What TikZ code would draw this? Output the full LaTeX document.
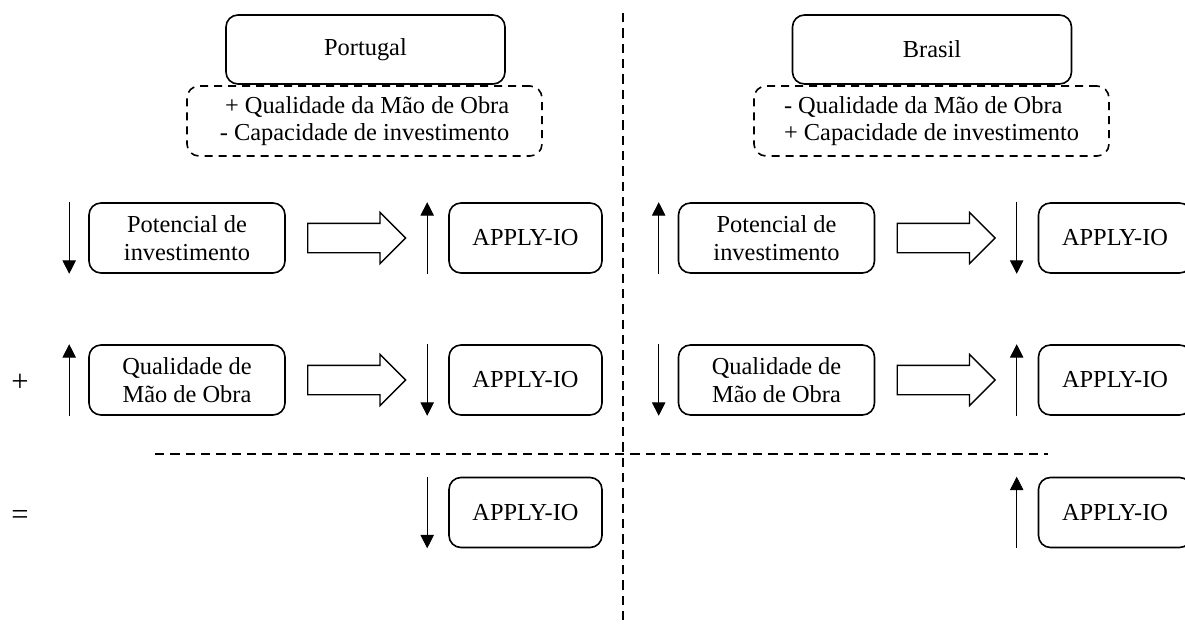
\documentclass[tikz,border=0pt]{standalone}
\usepackage{fontspec}
\setmainfont{Liberation Serif}
\usetikzlibrary{positioning,arrows.meta,shapes.arrows}
\tikzset{
  countrybox/.style={draw, line width=1.2pt, rounded corners=9pt,
    minimum width=209.25pt, minimum height=51.75pt},
  notebox/.style={draw, line width=1.2pt, dash pattern=on 6pt off 4.5pt,
    rounded corners=9pt, minimum width=266.25pt, minimum height=52.5pt},
  factorbox/.style={draw, line width=1.2pt, rounded corners=9pt,
    minimum width=147pt, minimum height=52.5pt, align=center},
  resultbox/.style={draw, line width=1.2pt, rounded corners=9pt,
    minimum width=114.75pt, minimum height=52.5pt},
  bigarrow/.style={draw, single arrow, line width=1pt, inner xsep=0pt, inner ysep=10.5pt,
    minimum height=73.5pt, single arrow head extend=8.25pt, anchor=tail},
  goesdown/.style={line width=0.6pt, -{Triangle[width=10pt,length=10pt]}},
  goesup/.style={line width=0.6pt, {Triangle[width=10pt,length=10pt]}-},
  divider/.style={line width=1.2pt, dash pattern=on 7pt off 4.5pt},
  operator/.style={font={\fontsize{23}{26}\selectfont}},
}
% one row: factor -> APPLY-IO, with the two trend arrows
\newcommand{\effectrow}[6]{%
  \node[factorbox] (#1f) at (187+#2,#3) {#4};
  \node[bigarrow] (#1a) at (307+#2,#3) {};
  \node[resultbox] (#1r) at (525.5+#2,#3) {APPLY-IO};
  \draw[#5] ([xshift=-14.25pt]#1f.north west) -- ([xshift=-14.25pt]#1f.south west);
  \draw[#6] ([xshift=-15.75pt]#1r.north west) -- ([xshift=-15.75pt]#1r.south west);}

\begin{document}
\begin{tikzpicture}[x=0.75pt, y=-0.75pt, font={\fontsize{18.3}{20.5}\selectfont}]
  \clip (0,0) rectangle (1185,628);
  % country headers
  \node[countrybox] (portugal) at (365.5,49.5) {Portugal};
  \node[notebox, align=right] (ptnote) at (364.5,121)
    {+ Qualidade da Mão de Obra\\- Capacidade de investimento};
  \node[countrybox] (brasil) at (932,49.5) {Brasil};
  \node[notebox, align=left] (brnote) at (931.5,121)
    {- Qualidade da Mão de Obra\\+ Capacidade de investimento};
  % dividers
  \coordinate (vtop) at (623,13);
  \coordinate (vbot) at (623,625);
  \coordinate (hleft) at (155,454);
  \coordinate (hright) at (1048,454);
  \draw[divider] (vtop) -- (vbot);
  \draw[divider] (hleft) -- (hright);
  % Portugal
  \effectrow{ptpot}{0}{238}{Potencial de\\investimento}{goesdown}{goesup}
  \effectrow{ptmao}{0}{380}{Qualidade de\\Mão de Obra}{goesup}{goesdown}
  \node[resultbox] (ptsum) at (525.5,512.5) {APPLY-IO};
  \draw[goesdown] ([xshift=-15.75pt]ptsum.north west) -- ([xshift=-15.75pt]ptsum.south west);
  % Brasil
  \effectrow{brpot}{589.5}{238}{Potencial de\\investimento}{goesup}{goesdown}
  \effectrow{brmao}{589.5}{380}{Qualidade de\\Mão de Obra}{goesdown}{goesup}
  \node[resultbox] (brsum) at (1115,512.5) {APPLY-IO};
  \draw[goesup] ([xshift=-15.75pt]brsum.north west) -- ([xshift=-15.75pt]brsum.south west);
  % operators
  \node[operator] (plus) at (20,383) {+};
  \node[operator] (equals) at (20,517) {=};
\end{tikzpicture}
\end{document}
